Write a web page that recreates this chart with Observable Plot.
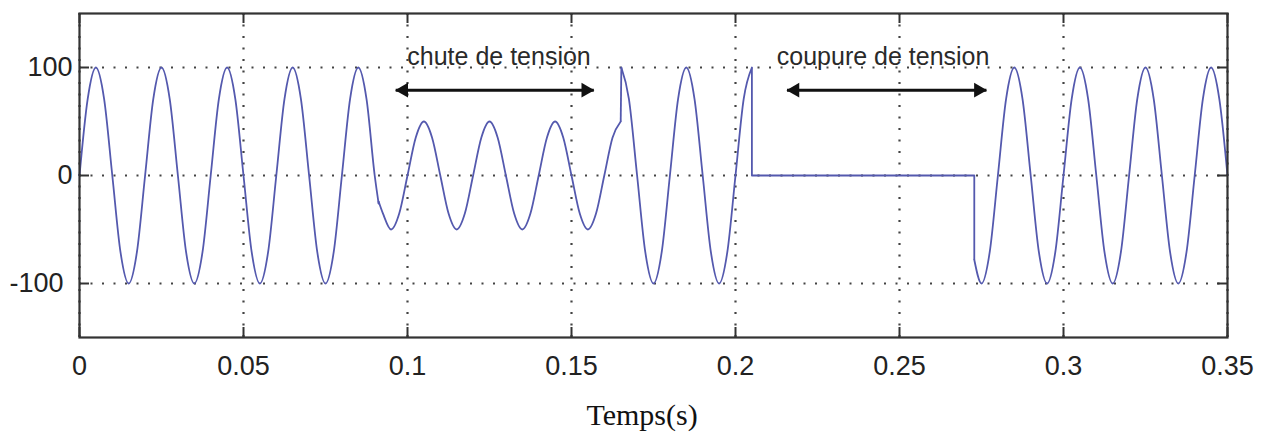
<!DOCTYPE html>
<html>
<head>
<meta charset="utf-8">
<script src="https://cdn.jsdelivr.net/npm/d3@7"></script>
<script src="https://cdn.jsdelivr.net/npm/@observablehq/plot@0.6"></script>
<style>
  html, body { margin: 0; padding: 0; background: #ffffff; }
</style>
</head>
<body>
<div id="chart"></div>
<script>
// ---- Data (time in s, voltage in V) ----
// normal supply, before the sag
const normalT = [0, 0.0025, 0.005, 0.0075, 0.010, 0.0125, 0.015, 0.0175,
                 0.020, 0.0225, 0.025, 0.0275, 0.030, 0.0325, 0.035, 0.0375,
                 0.040, 0.0425, 0.045, 0.0475, 0.050, 0.0525, 0.055, 0.0575,
                 0.060, 0.0625, 0.065, 0.0675, 0.070, 0.0725, 0.075, 0.0775,
                 0.080, 0.0825, 0.085, 0.0875, 0.090, 0.0912];
const normalV = [0, 71, 100, 71, 0, -71, -100, -71,
                 0, 71, 100, 71, 0, -71, -100, -71,
                 0, 71, 100, 71, 0, -71, -100, -71,
                 0, 71, 100, 71, 0, -71, -100, -71,
                 0, 71, 100, 71, 0, -26];
// voltage sag ("chute de tension")
const sagT = [0.0912, 0.0925,
              0.095, 0.0975, 0.100, 0.1025, 0.105, 0.1075, 0.110, 0.1125,
              0.115, 0.1175, 0.120, 0.1225, 0.125, 0.1275, 0.130, 0.1325,
              0.135, 0.1375, 0.140, 0.1425, 0.145, 0.1475, 0.150, 0.1525,
              0.155, 0.1575, 0.160, 0.1625, 0.165];
const sagV = [-24, -35,
              -50, -35, 0, 35, 50, 35, 0, -35,
              -50, -35, 0, 35, 50, 35, 0, -35,
              -50, -35, 0, 35, 50, 35, 0, -35,
              -50, -35, 0, 35, 50];
// recovery after the sag
const recoverT = [0.1652, 0.1675, 0.170, 0.1725, 0.175, 0.1775, 0.180, 0.1825,
                  0.185, 0.1875, 0.190, 0.1925, 0.195, 0.1975, 0.200, 0.2025, 0.205];
const recoverV = [100, 71, 0, -71, -100, -71, 0, 71,
                  100, 71, 0, -71, -100, -71, 0, 71, 100];
// interruption ("coupure de tension")
const cutT = [0.205, 0.2728];
const cutV = [0, 0];
// supply restored
const restoreT = [0.2728,
                  0.275, 0.2775, 0.280, 0.2825, 0.285, 0.2875, 0.290, 0.2925,
                  0.295, 0.2975, 0.300, 0.3025, 0.305, 0.3075, 0.310, 0.3125,
                  0.315, 0.3175, 0.320, 0.3225, 0.325, 0.3275, 0.330, 0.3325,
                  0.335, 0.3375, 0.340, 0.3425, 0.345, 0.3475, 0.350];
const restoreV = [-78,
                  -100, -71, 0, 71, 100, 71, 0, -71,
                  -100, -71, 0, 71, 100, 71, 0, -71,
                  -100, -71, 0, 71, 100, 71, 0, -71,
                  -100, -71, 0, 71, 100, 71, 0];

// axes
const xTicks = [0, 0.05, 0.10, 0.15, 0.20, 0.25, 0.30, 0.35];
const xTickLabels = ["0", "0.05", "0.1", "0.15", "0.2", "0.25", "0.3", "0.35"];
const yTicks = [-100, 0, 100];
const yTickLabels = ["-100", "0", "100"];
const xTitle = "Temps(s)";
const xTitleT = 0.1715;

// annotations
const annotLabels = ["chute de tension", "coupure de tension"];
const annotLabelT = [0.1279, 0.2450];
const annotLabelV = [110, 110];
const arrowStartT = [0.0964, 0.2157];
const arrowEndT = [0.1568, 0.2765];
const arrowV = [79, 79];

// ---- Build tables ----
const segments = [
  {t: normalT, v: normalV},
  {t: sagT, v: sagV},
  {t: recoverT, v: recoverV},
  {t: cutT, v: cutV},
  {t: restoreT, v: restoreV}
];
const points = segments.flatMap((s, k) => s.t.map((t, i) => ({seg: k, t, v: s.v[i]})));
const jumps = segments.slice(1).map((s, k) => ({
  t1: segments[k].t[segments[k].t.length - 1],
  v1: segments[k].v[segments[k].v.length - 1],
  t2: s.t[0],
  v2: s.v[0]
}));
const annots = annotLabels.map((label, i) => ({
  label, t: annotLabelT[i], v: annotLabelV[i],
  t1: arrowStartT[i], t2: arrowEndT[i], av: arrowV[i]
}));
const yFmt = d => yTickLabels[yTicks.indexOf(d)];

const W = 1268, H = 434;
const mL = 79, mR = 41, mT = 13, mB = 97;
const frameW = W - mL - mR, frameH = H - mT - mB;
const tickLen = 10;
const lineColor = "#5459ae";
const axisColor = "#333333";
const tickFont = "'Liberation Sans', Arial, Helvetica, sans-serif";
const gridStyle = {stroke: "#2f2f2f", strokeOpacity: 0.9, strokeWidth: 2.2, strokeDasharray: "2,9.5"};

const chart = Plot.plot({
  width: W,
  height: H,
  marginLeft: mL,
  marginRight: mR,
  marginTop: mT,
  marginBottom: mB,
  x: {domain: [0, 0.35]},
  y: {domain: [-150, 150]},
  style: {background: "#ffffff", color: "#222", fontFamily: "'Liberation Sans', Arial, Helvetica, sans-serif"},
  marks: [
    Plot.gridX(xTicks, gridStyle),
    Plot.gridY(yTicks, gridStyle),
    Plot.line(points, {x: "t", y: "v", z: "seg", curve: "monotone-x", stroke: lineColor, strokeWidth: 1.8}),
    Plot.link(jumps, {x1: "t1", y1: "v1", x2: "t2", y2: "v2", stroke: lineColor, strokeWidth: 1.8}),
    // inward MATLAB-style ticks
    Plot.tickX(xTicks, {insetTop: frameH - tickLen, stroke: axisColor, strokeWidth: 2}),
    Plot.tickX(xTicks, {insetBottom: frameH - tickLen, stroke: axisColor, strokeWidth: 2}),
    Plot.tickY(yTicks, {insetRight: frameW - tickLen, stroke: axisColor, strokeWidth: 2}),
    Plot.tickY(yTicks, {insetLeft: frameW - tickLen, stroke: axisColor, strokeWidth: 2}),
    Plot.frame({stroke: axisColor, strokeWidth: 2.2}),
    Plot.axisX(xTicks, {
      tickSize: 0, tickPadding: 18, fontSize: 27, fontFamily: tickFont, label: null,
      tickFormat: d => xTickLabels[xTicks.indexOf(d)]
    }),
    Plot.axisY(yTicks.filter(d => d >= 0), {
      tickSize: 0, tickPadding: 7, fontSize: 27, fontFamily: tickFont, label: null, tickFormat: yFmt
    }),
    Plot.axisY(yTicks.filter(d => d < 0), {
      tickSize: 0, tickPadding: 16, fontSize: 27, fontFamily: tickFont, label: null, tickFormat: yFmt
    }),
    // annotations
    Plot.link(annots, {x1: "t1", x2: "t2", y1: "av", y2: "av", stroke: "#111", strokeWidth: 3}),
    Plot.dot(annots, {x: "t2", y: "av", symbol: "triangle", r: 5.5, rotate: 90, fill: "#111", stroke: null, dx: -8}),
    Plot.dot(annots, {x: "t1", y: "av", symbol: "triangle", r: 5.5, rotate: -90, fill: "#111", stroke: null, dx: 8}),
    Plot.text(annots, {x: "t", y: "v", text: "label", fontSize: 25, fill: "#2a2a2a"}),
    Plot.text([{label: xTitle, t: xTitleT}], {
      x: "t", text: "label", frameAnchor: "bottom", dy: 87,
      fontFamily: "'Liberation Serif', 'Times New Roman', serif", fontSize: 30, fill: "#111"
    })
  ]
});
document.getElementById("chart").appendChild(chart);
</script>
</body>
</html>
